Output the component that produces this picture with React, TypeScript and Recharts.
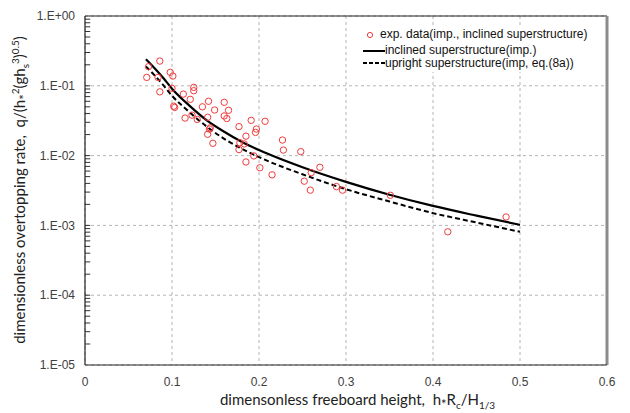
import { ComposedChart, XAxis, YAxis, CartesianGrid, Scatter, Line, ReferenceLine } from "recharts";

// axis ticks
const xTicks = [0, 0.1, 0.2, 0.3, 0.4, 0.5, 0.6];
const yTicks = [1e-5, 1e-4, 1e-3, 1e-2, 1e-1, 1];
const yMinorTicks = [
  2e-5, 3e-5, 4e-5, 5e-5, 6e-5, 7e-5, 8e-5, 9e-5, 1e-4,
  2e-4, 3e-4, 4e-4, 5e-4, 6e-4, 7e-4, 8e-4, 9e-4, 1e-3,
  2e-3, 3e-3, 4e-3, 5e-3, 6e-3, 7e-3, 8e-3, 9e-3, 1e-2,
  2e-2, 3e-2, 4e-2, 5e-2, 6e-2, 7e-2, 8e-2, 9e-2, 1e-1,
  2e-1, 3e-1, 4e-1, 5e-1, 6e-1, 7e-1, 8e-1, 9e-1,
];

// experimental data (imp., inclined superstructure)
const expX = [
  0.086, 0.073, 0.071, 0.084, 0.098, 0.101, 0.086, 0.1, 0.125, 0.125,
  0.113, 0.121, 0.142, 0.16, 0.102, 0.103, 0.135, 0.149, 0.165, 0.123,
  0.115, 0.129, 0.141, 0.16, 0.163, 0.143, 0.144, 0.141, 0.147, 0.177,
  0.191, 0.197, 0.196, 0.207, 0.185, 0.178, 0.183, 0.177, 0.227, 0.228,
  0.248, 0.194, 0.185, 0.201, 0.215, 0.27, 0.26, 0.252, 0.259, 0.289,
  0.296, 0.351, 0.417, 0.484,
];
const expY = [
  0.226, 0.188, 0.132, 0.132, 0.156, 0.138, 0.082, 0.092, 0.095, 0.085,
  0.076, 0.064, 0.06, 0.058, 0.051, 0.049, 0.05, 0.045, 0.0446, 0.038,
  0.0345, 0.033, 0.0354, 0.037, 0.034, 0.024, 0.025, 0.0202, 0.015, 0.026,
  0.032, 0.024, 0.0215, 0.031, 0.019, 0.0153, 0.0147, 0.0122, 0.0167, 0.012,
  0.0114, 0.0099, 0.0081, 0.0067, 0.0053, 0.0068, 0.0057, 0.0043, 0.0032, 0.0036,
  0.0032, 0.0027, 0.00081, 0.00132,
];

// calculated curves
const curveX = [0.07, 0.08, 0.09, 0.1, 0.12, 0.14, 0.16, 0.18, 0.2, 0.25, 0.3, 0.35, 0.4, 0.45, 0.5];
const inclinedY = [0.24, 0.178, 0.129, 0.091, 0.052, 0.032, 0.022, 0.0158, 0.012, 0.0068, 0.0042, 0.00275, 0.0019, 0.00138, 0.00102];
const uprightY = [0.19, 0.141, 0.102, 0.072, 0.042, 0.026, 0.0174, 0.0126, 0.0095, 0.0054, 0.0033, 0.0022, 0.0015, 0.0011, 0.00081];

const expData = expX.map((x, i) => ({ x, y: expY[i] }));
const inclinedData = curveX.map((x, i) => ({ x, y: inclinedY[i] }));
const uprightData = curveX.map((x, i) => ({ x, y: uprightY[i] }));

const fmtY = (v: number) => {
  const e = Math.round(Math.log10(v));
  return "1.E" + (e >= 0 ? "+" : "-") + String(Math.abs(e)).padStart(2, "0");
};

const RedCircle = (props: any) => {
  const { cx, cy } = props;
  if (cx == null || cy == null) return null;
  return <circle cx={cx} cy={cy} r={3.2} fill="none" stroke="#f23b3b" strokeWidth={1} />;
};

// inward minor tick length, in x data units (~5px)
const MINOR_LEN = 0.006;

const tickStyle = { fill: "#404040", fontSize: 12, fontFamily: "Liberation Sans, Arial, sans-serif" };
const titleFont = "Lato, 'Open Sans', sans-serif";
const legendFont = "'Liberation Sans', Arial, sans-serif";
const small = { fontSize: 10 };
const star = { fontSize: 13 };

export default function App() {
  return (
    <div style={{ position: "absolute", left: 0, top: 0, width: 630, height: 413, background: "#fff" }}>
      <ComposedChart width={630} height={413} margin={{ top: 16, right: 23, bottom: 18, left: 10 }}>
        <CartesianGrid stroke="#b4b4b4" strokeDasharray="3 3" />
        <XAxis
          type="number"
          dataKey="x"
          domain={[0, 0.6]}
          ticks={xTicks}
          height={30}
          tickLine={false}
          tickSize={0}
          tickMargin={12}
          axisLine={{ stroke: "#222", strokeWidth: 1.2 }}
          tick={tickStyle}
          tickFormatter={(v: number) => String(v)}
        />
        <YAxis
          type="number"
          dataKey="y"
          scale="log"
          domain={[1e-5, 1]}
          allowDataOverflow
          ticks={yTicks}
          interval={0}
          width={75}
          tickLine={false}
          tickSize={0}
          tickMargin={10}
          axisLine={{ stroke: "#222", strokeWidth: 1.2 }}
          tick={tickStyle}
          tickFormatter={fmtY}
        />
        {yMinorTicks.map((v) => (
          <ReferenceLine
            key={v}
            segment={[{ x: 0, y: v }, { x: MINOR_LEN, y: v }]}
            stroke="#333"
            strokeWidth={1}
            ifOverflow="visible"
          />
        ))}
        <ReferenceLine y={1} stroke="#222" strokeWidth={1.2} />
        <ReferenceLine x={0.6} stroke="#8c8c8c" strokeWidth={3} />
        <Scatter data={expData} dataKey="y" shape={<RedCircle />} isAnimationActive={false} />
        <Line data={inclinedData} dataKey="y" type="monotone" stroke="#000" strokeWidth={2.2} dot={false} isAnimationActive={false} />
        <Line data={uprightData} dataKey="y" type="monotone" stroke="#000" strokeWidth={2} strokeDasharray="5 3" dot={false} isAnimationActive={false} />
      </ComposedChart>

      {/* legend */}
      <div style={{ position: "absolute", left: 352, top: 25, width: 248, height: 47, background: "#fff", fontFamily: legendFont, fontSize: 12, color: "#111" }}>
        <svg style={{ position: "absolute", left: 14, top: 6 }} width={8} height={8}>
          <circle cx={4} cy={4} r={2.6} fill="none" stroke="#f23b3b" strokeWidth={1} />
        </svg>
        <div style={{ position: "absolute", left: 28, top: 2, whiteSpace: "nowrap" }}>exp. data(imp., inclined superstructure)</div>
        <svg style={{ position: "absolute", left: 11, top: 24 }} width={22} height={4}>
          <line x1={0} y1={2} x2={22} y2={2} stroke="#000" strokeWidth={2} />
        </svg>
        <div style={{ position: "absolute", left: 33, top: 18, whiteSpace: "nowrap" }}>inclined superstructure(imp.)</div>
        <svg style={{ position: "absolute", left: 11, top: 36 }} width={22} height={4}>
          <line x1={0} y1={2} x2={22} y2={2} stroke="#000" strokeWidth={2} strokeDasharray="4 2" />
        </svg>
        <div style={{ position: "absolute", left: 33, top: 31, whiteSpace: "nowrap" }}>upright superstructure(imp, eq.(8a))</div>
      </div>

      {/* axis titles */}
      <div style={{ position: "absolute", left: 0, top: 390, width: 630, paddingLeft: 85, boxSizing: "border-box", textAlign: "center", fontFamily: titleFont, fontSize: 15, color: "#222", whiteSpace: "nowrap" }}>
        <span style={{ display: "inline-block", width: 522 }}>
          dimensonless freeboard height,&nbsp; h<sub style={star}>*</sub>R<sub style={small}>c</sub>/H<sub style={small}>1/3</sub>
        </span>
      </div>
      <div style={{ position: "absolute", left: 20, top: 190, width: 0, height: 0 }}>
        <div style={{ position: "absolute", left: 0, top: 0, transform: "translate(-50%, -50%) rotate(-90deg)", fontFamily: titleFont, fontSize: 15, color: "#222", whiteSpace: "nowrap" }}>
          dimensionless overtopping rate,&nbsp; q/(h<sub style={star}>*</sub><sup style={small}>2</sup>(gh<sub style={small}>s</sub><sup style={small}>3</sup>)<sup style={small}>0.5</sup>)
        </div>
      </div>
    </div>
  );
}
